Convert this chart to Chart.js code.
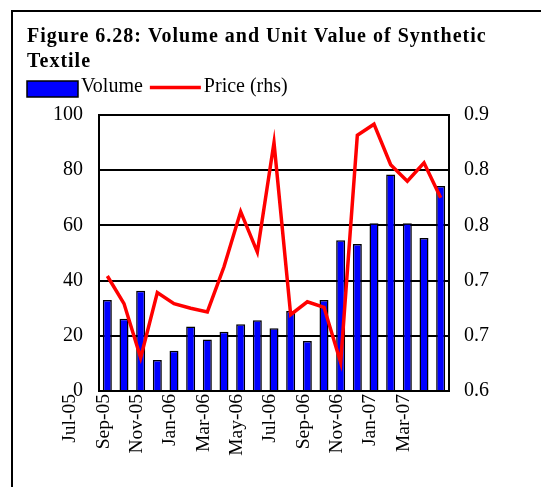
<!DOCTYPE html>
<html>
<head>
<meta charset="utf-8">
<script src="https://cdn.jsdelivr.net/npm/chart.js@4/dist/chart.umd.min.js"></script>
<style>
  html, body { margin: 0; padding: 0; background: #fff; }
  #frame { position: absolute; left: 11px; top: 10px; width: 600px; height: 520px; border-top: 2px solid #000; border-left: 2px solid #000; }
  #wrap { position: absolute; left: 0; top: 0; width: 541px; height: 487px; }
</style>
</head>
<body>
<div id="frame"></div>
<div id="wrap"><canvas id="textileChart"></canvas></div>
<script>
const months = ['Jul-05', 'Aug-05', 'Sep-05', 'Oct-05', 'Nov-05', 'Dec-05', 'Jan-06', 'Feb-06', 'Mar-06', 'Apr-06', 'May-06',
    'Jun-06', 'Jul-06', 'Aug-06', 'Sep-06', 'Oct-06', 'Nov-06', 'Dec-06', 'Jan-07', 'Feb-07', 'Mar-07'];
const volume = [33.0, 26.2, 36.3, 11.2, 14.6, 23.4, 18.7, 21.5, 24.2, 25.6, 22.7,
    29.0, 18.1, 33.0, 54.6, 53.3, 60.8, 78.4, 60.8, 55.4, 74.3];
const price = [0.725, 0.695, 0.636, 0.707, 0.695, 0.690, 0.686, 0.735, 0.795, 0.751, 0.870,
    0.683, 0.697, 0.691, 0.631, 0.878, 0.890, 0.846, 0.828, 0.848, 0.810];
const volumeTicks = [0, 20, 40, 60, 80, 100];
const priceTicks = [0.6, 0.66, 0.72, 0.78, 0.84, 0.9];
const titleLines = ['Figure 6.28: Volume and Unit Value of Synthetic', 'Textile'];

const serif = "'Liberation Serif', 'Times New Roman', serif";

// title + legend drawn by hand (title is letter-spaced, legend text sits tight to its marker)
const headerText = {
    id: 'headerText',
    afterDraw(chart, args, opts) {
        const ctx = chart.ctx;
        ctx.save();
        ctx.fillStyle = '#000';
        ctx.textBaseline = 'alphabetic';
        ctx.font = 'bold 20px ' + serif;
        ctx.letterSpacing = '1px';
        titleLines.forEach((line, i) => ctx.fillText(line, opts.x, opts.titleY + i * 24.5));
        ctx.letterSpacing = '0px';

        let x = opts.x;
        const y = opts.legendY;
        ctx.font = '20px ' + serif;
        chart.data.datasets.forEach(ds => {
            if (ds.type === 'bar') {
                ctx.fillStyle = ds.backgroundColor;
                ctx.fillRect(x, y - 11, 51, 16);
                ctx.strokeStyle = '#000';
                ctx.lineWidth = 1.5;
                ctx.strokeRect(x, y - 11, 51, 16);
            } else {
                ctx.strokeStyle = ds.borderColor;
                ctx.lineWidth = 3.5;
                ctx.beginPath();
                ctx.moveTo(x, y - 4.5);
                ctx.lineTo(x + 51, y - 4.5);
                ctx.stroke();
            }
            x += 51 + 3;
            ctx.fillStyle = '#000';
            ctx.fillText(ds.label, x, y);
            x += ctx.measureText(ds.label).width + 7;
        });
        ctx.restore();
    }
};

const textileChart = new Chart(document.getElementById('textileChart'), {
    data: {
        labels: months,
        datasets: [{
            type: 'bar',
            label: 'Volume',
            data: volume,
            yAxisID: 'y',
            backgroundColor: '#0000FF',
            borderColor: '#000',
            borderWidth: 1.5,
            barPercentage: 0.54,
            categoryPercentage: 1,
            order: 1,
        }, {
            type: 'line',
            label: 'Price (rhs)',
            data: price,
            yAxisID: 'y1',
            borderColor: '#FF0000',
            borderWidth: 3.5,
            pointRadius: 0,
            tension: 0,
            fill: false,
            order: 0,
        }]
    },
    options: {
        responsive: true,
        maintainAspectRatio: false,
        animation: false,
        layout: { padding: { left: 27, top: 115, right: 0, bottom: 0 } },
        plugins: {
            legend: { display: false },
            tooltip: { enabled: false },
            title: { display: false },
            headerText: { x: 27, titleY: 42, legendY: 92 },
        },
        scales: {
            x: {
                grid: { display: false },
                border: { display: true, color: '#000', width: 2 },
                ticks: {
                    autoSkip: false,
                    maxRotation: 90,
                    minRotation: 90,
                    labelOffset: -37,
                    padding: -5,
                    color: '#000',
                    font: { family: serif, size: 19.5 },
                    callback(value, index) {
                        return index % 2 === 0 ? this.getLabelForValue(value) : '';
                    },
                },
                afterFit(scale) { scale.height = 96; },
            },
            y: {
                position: 'left',
                min: 0,
                max: 100,
                afterBuildTicks(scale) { scale.ticks = volumeTicks.map(v => ({ value: v })); },
                grid: { color: '#000', lineWidth: 2, drawTicks: false },
                border: { display: true, color: '#000', width: 2 },
                ticks: { padding: 16, color: '#000', font: { family: serif, size: 20 } },
                afterFit(scale) { scale.width = 72; },
            },
            y1: {
                position: 'right',
                min: 0.6,
                max: 0.9,
                afterBuildTicks(scale) { scale.ticks = priceTicks.map(v => ({ value: v })); },
                grid: { display: false, drawTicks: false },
                border: { display: true, color: '#000', width: 2 },
                ticks: {
                    padding: 15,
                    color: '#000',
                    font: { family: serif, size: 20 },
                    callback: v => v.toFixed(1),
                },
                afterFit(scale) { scale.width = 92; },
            },
        },
    },
    plugins: [headerText],
});
</script>
</body>
</html>
